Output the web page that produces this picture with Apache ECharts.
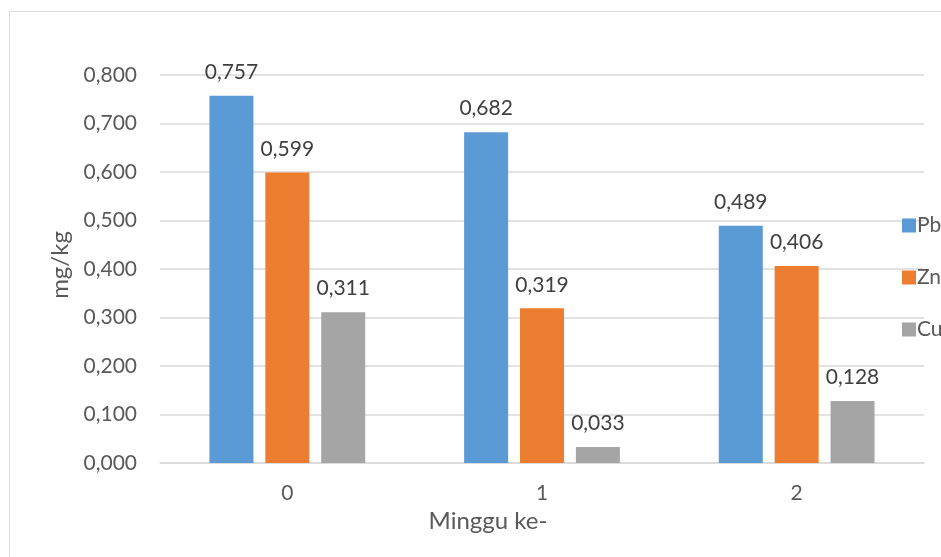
<!DOCTYPE html>
<html>
<head>
<meta charset="utf-8">
<script src="https://cdn.jsdelivr.net/npm/echarts@6/dist/echarts.min.js"></script>
<style>
html,body{margin:0;padding:0;background:#fff;}
#c{width:941px;height:557px;}
</style>
</head>
<body>
<div id="c"></div>
<script>
const categories = ['0', '1', '2'];
const pb = [0.757, 0.682, 0.489];
const zn = [0.599, 0.319, 0.406];
const cu = [0.311, 0.033, 0.128];
const seriesNames = ['Pb', 'Zn', 'Cu'];
const colors = ['#5B9BD5', '#ED7D31', '#A5A5A5'];

const fontFamily = 'Lato, "Open Sans", sans-serif';
const fmt = v => v.toFixed(3).replace('.', ',');

const chart = echarts.init(document.getElementById('c'), null, {renderer: 'canvas'});
function mkSeries(name, data, color) {
  return {
    name: name,
    type: 'bar',
    data: data,
    barWidth: 44,
    barGap: '27%',
    itemStyle: {color: color},
    label: {
      show: true,
      position: 'top',
      distance: 13,
      color: '#404040',
      fontSize: 21,
      fontFamily: fontFamily,
      formatter: p => fmt(p.value)
    }
  };
}
chart.setOption({
  animation: false,
  color: colors,
  graphic: [{
    type: 'rect',
    shape: {x: 9.5, y: 11.5, width: 1000, height: 1000},
    style: {fill: 'none', stroke: '#D9D9D9', lineWidth: 1},
    z: -1
  }],
  grid: {left: 160, right: 17, top: 75, bottom: 94},
  legend: {
    orient: 'vertical',
    left: 897,
    top: 210,
    itemWidth: 14,
    itemHeight: 14,
    itemGap: 31,
    icon: 'rect',
    textStyle: {color: '#595959', fontSize: 21, fontFamily: fontFamily, padding: [0, 0, 0, -4]},
    data: seriesNames
  },
  xAxis: {
    type: 'category',
    data: categories,
    name: 'Minggu ke-',
    nameLocation: 'middle',
    nameGap: 43,
    nameTextStyle: {color: '#595959', fontSize: 24, fontFamily: fontFamily, padding: [0, 108, 0, 0]},
    axisLine: {lineStyle: {color: '#D9D9D9', width: 1.5}},
    axisTick: {show: false},
    axisLabel: {color: '#595959', fontSize: 21, fontFamily: fontFamily, margin: 20}
  },
  yAxis: {
    type: 'value',
    min: 0,
    max: 0.8,
    interval: 0.1,
    name: 'mg/kg',
    nameLocation: 'middle',
    nameGap: 88,
    nameTextStyle: {color: '#595959', fontSize: 24, fontFamily: fontFamily, padding: [0, 0, 0, 8]},
    axisLine: {show: false},
    axisTick: {show: false},
    splitLine: {lineStyle: {color: '#D9D9D9', width: 1.5}},
    axisLabel: {color: '#595959', fontSize: 21, fontFamily: fontFamily, margin: 23, formatter: v => fmt(v)}
  },
  series: [
    mkSeries(seriesNames[0], pb, colors[0]),
    mkSeries(seriesNames[1], zn, colors[1]),
    mkSeries(seriesNames[2], cu, colors[2])
  ]
});
</script>
</body>
</html>
